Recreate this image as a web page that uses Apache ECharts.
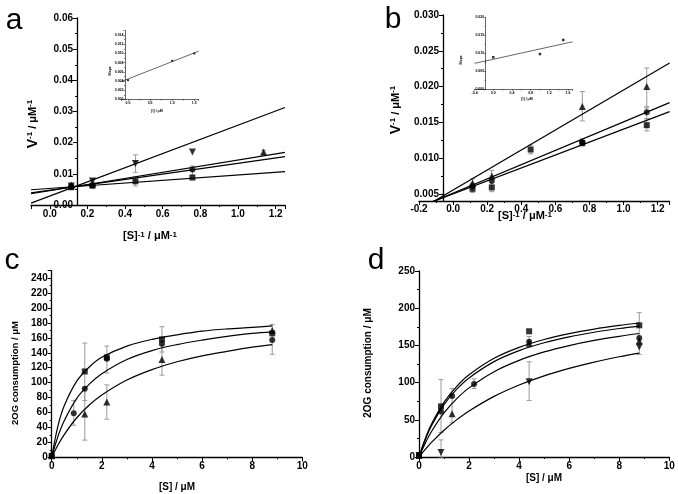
<!DOCTYPE html>
<html><head><meta charset="utf-8">
<script src="https://cdn.jsdelivr.net/npm/echarts@6/dist/echarts.min.js"></script>
<style>html,body{margin:0;padding:0;background:#fff}#chart{width:678px;height:494px}</style>
</head><body><div id="chart"></div>
<script>
// ---------- Panel a : Lineweaver-Burk ----------
const aFitX = [-0.1, 1.25];
const aFitDown = [0.0006, 0.0313];
const aFitUp = [0.0036, 0.0169];
const aFitCircle = [0.0039, 0.0155];
const aFitSquare = [0.0049, 0.0107];
const aPtDown = [[0.114, 0.0061], [0.227, 0.0077], [0.455, 0.0133], [0.758, 0.0170]];
const aPtUp = [[0.114, 0.0064], [0.227, 0.0068], [1.136, 0.0170]];
const aPtCircle = [[0.114, 0.0058], [0.227, 0.0063], [0.758, 0.0114]];
const aPtSquare = [[0.114, 0.0057], [0.227, 0.0062], [0.455, 0.0076], [0.758, 0.0088]];
const aErr = [[0.114, 0.0052, 0.0068], [0.227, 0.0055, 0.0083], [0.455, 0.0105, 0.0161],
              [0.455, 0.0061, 0.0090], [0.758, 0.0095, 0.0125], [1.136, 0.0163, 0.0176]];
// inset a : slope vs [I]
const aInsetLineX = [-0.15, 1.6];
const aInsetLineY = [0.0039, 0.0105];
const aInsetPts = [[0, 0.0042], [1.0, 0.0084], [1.5, 0.0100]];

// ---------- Panel b : Lineweaver-Burk ----------
const bFitX = [-0.15, 1.27];
const bFitUp = [0.00344, 0.02329];
const bFitCircle = [0.00360, 0.01775];
const bFitSquare = [0.00364, 0.01650];
const bPtUp = [[0.114, 0.0065], [0.227, 0.0075], [0.758, 0.0172], [1.136, 0.0200]];
const bPtCircle = [[0.114, 0.0061], [0.227, 0.0068], [0.758, 0.0122], [1.136, 0.0164]];
const bPtSquare = [[0.114, 0.0057], [0.227, 0.0059], [0.455, 0.0112], [0.758, 0.0121], [1.136, 0.0146]];
const bErr = [[0.114, 0.0052, 0.0071], [0.227, 0.0053, 0.0083], [0.455, 0.0106, 0.0118],
              [0.758, 0.0152, 0.0193], [0.758, 0.0117, 0.0127], [1.136, 0.0170, 0.0226],
              [1.136, 0.0155, 0.0172], [1.136, 0.0138, 0.0155]];
// inset b
const bInsetLineX = [-0.4, 1.7];
const bInsetLineY = [0.0072, 0.0132];
const bInsetPts = [[0, 0.0089], [1.0, 0.0098], [1.5, 0.0137]];

// ---------- Panel c : Michaelis-Menten ----------
const cCurveX = [0, 0.25, 0.5, 1, 1.5, 2, 3, 4, 5, 6, 7, 8, 8.8];
const cFitSquare = [0, 42, 69, 102, 121, 134, 149, 158, 164, 169, 172, 174, 176];
const cFitCircle = [0, 28, 49, 79, 98, 112, 131, 143, 151, 157, 162, 166, 168];
const cFitUp = [0, 16.5, 30.5, 53, 70, 83.5, 103.5, 117.5, 128, 136, 142, 147.5, 151];
const cPtSquare = [[0, 2], [1.32, 115], [2.2, 134], [4.4, 158], [8.8, 166]];
const cPtCircle = [[0, 2], [0.88, 59], [1.32, 92], [2.2, 132], [4.4, 152], [8.8, 157]];
const cPtUp = [[0, 2], [1.32, 58], [2.2, 74], [4.4, 131], [8.8, 170]];
const cErr = [[0.88, 43, 76], [1.32, 76, 153], [1.32, 23, 93], [2.2, 113, 149], [2.2, 51, 97],
              [4.4, 141, 175], [4.4, 110, 150], [8.8, 138, 178]];

// ---------- Panel d : Michaelis-Menten ----------
const dCurveX = [0, 0.25, 0.5, 1, 1.5, 2, 3, 4, 5, 6, 7, 8, 8.8];
const dFitSquare = [0, 24.6, 44.2, 73.7, 94.7, 110.5, 132.6, 147.3, 157.9, 165.8, 171.9, 176.8, 180.1];
const dFitCircle = [0, 23.2, 41.9, 70.3, 90.8, 106.3, 128.2, 143, 153.5, 161.5, 167.7, 172.7, 176];
const dFitUp = [0, 18.6, 34.3, 59.2, 78.1, 92.9, 114.7, 129.9, 141.2, 149.8, 156.7, 162.2, 166];
const dFitDown = [0, 10.2, 19.6, 36, 49.9, 61.9, 81.5, 96.8, 109.1, 119.1, 127.6, 134.7, 139.7];
const dPtSquare = [[0, 2], [0.88, 68], [4.4, 169], [8.8, 177]];
const dPtCircle = [[0, 2], [0.88, 61], [1.32, 82], [2.2, 98], [4.4, 155], [8.8, 160]];
const dPtUp = [[0, 2], [1.32, 58], [4.4, 153], [8.8, 156]];
const dPtDown = [[0, 2], [0.88, 6], [4.4, 101], [8.8, 148]];
const dErr = [[0.88, 33, 104], [0.88, 0, 23], [1.32, 46, 92], [2.2, 92, 105],
              [4.4, 148, 162], [4.4, 76, 128], [8.8, 138, 194]];

// ---------- Text ----------
const panelLetters = ['a', 'b', 'c', 'd'];
const titleLB_Y = '{v|V}{s|-1}{u| / μM}{s|-1}';
const titleLB_X = '{u|[S]}{s|-1}{u| / μM}{s|-1}';
const titleMM_Y = '2OG consumption / μM';
const titleMM_X = '[S] / μM';
const insetY = 'Slope';
const insetX = '[I] / μM';

// ---------- helpers ----------
const FF = '"Liberation Sans", Arial, sans-serif';
const zip = (xs, ys) => xs.map((x, i) => [x, ys[i]]);

function axis(o, small) {
  const base = {
    type: 'value',
    gridIndex: o.grid,
    position: o.pos,
    min: o.min, max: o.max,
    offset: o.offset || 0,
    axisLine: { show: true, onZero: false, lineStyle: { color: '#000', width: small ? 0.6 : 1.3 } },
    axisTick: { show: true, inside: !!o.inside, length: small ? 1.5 : 4, lineStyle: { color: '#000', width: small ? 0.5 : 1 } },
    minorTick: { show: true, splitNumber: 2, length: small ? 1 : 2, lineStyle: { color: '#000', width: small ? 0.5 : 1 } },
    splitLine: { show: false },
    axisLabel: {
      color: '#000', fontWeight: 'bold', fontFamily: FF, fontSize: small ? 3.5 : 10,
      margin: o.margin !== undefined ? o.margin : (small ? 1.5 : 4),
      showMinLabel: o.showMin !== false, showMaxLabel: o.showMax !== false,
      formatter: o.fmt
    }
  };
  if (o.interval !== undefined) base.interval = o.interval;
  if (o.fixInterval !== undefined) { base.minInterval = o.fixInterval; base.maxInterval = o.fixInterval; }
  return base;
}

function lineS(idx, data, smooth) {
  return { type: 'line', xAxisIndex: idx, yAxisIndex: idx, data: data, showSymbol: false, symbol: 'none',
           smooth: smooth ? 0.35 : false, clip: true, silent: true,
           lineStyle: { color: '#000', width: idx === 1 || idx === 3 ? 0.6 : 1.2 }, z: 3 };
}
function scatS(idx, data, symbol, rot, size) {
  return { type: 'scatter', xAxisIndex: idx, yAxisIndex: idx, data: data, symbol: symbol,
           symbolRotate: rot || 0, symbolSize: size, itemStyle: { color: '#000' }, silent: true, z: 5 };
}
function errS(idx, data) {
  return {
    type: 'custom', xAxisIndex: idx, yAxisIndex: idx, data: data, silent: true, z: 2,
    encode: { x: 0, y: [1, 2] },
    renderItem: function (params, api) {
      const x = api.value(0), lo = api.value(1), hi = api.value(2);
      const p1 = api.coord([x, lo]), p2 = api.coord([x, hi]);
      const w = 2.5, st = { stroke: '#9a9a9a', lineWidth: 1 };
      return { type: 'group', children: [
        { type: 'line', shape: { x1: p1[0], y1: p1[1], x2: p2[0], y2: p2[1] }, style: st },
        { type: 'line', shape: { x1: p1[0] - w, y1: p1[1], x2: p1[0] + w, y2: p1[1] }, style: st },
        { type: 'line', shape: { x1: p2[0] - w, y1: p2[1], x2: p2[0] + w, y2: p2[1] }, style: st }
      ]};
    }
  };
}
const rich = {
  v: { fontSize: 14, fontWeight: 'bold', fontFamily: FF, fill: '#000' },
  u: { fontSize: 11, fontWeight: 'bold', fontFamily: FF, fill: '#000' },
  s: { fontSize: 8, fontWeight: 'bold', fontFamily: FF, fill: '#000', verticalAlign: 'top' }
};
function txt(x, y, text, size, opts) {
  opts = opts || {};
  return { type: 'text', x: x, y: y, rotation: opts.rot ? Math.PI / 2 : 0, silent: true, z: 10,
    style: { text: text, fill: '#000', fontSize: size, fontWeight: opts.weight || 'normal', fontFamily: FF,
      align: 'center', verticalAlign: 'middle', textAlign: 'center', textVerticalAlign: 'middle',
      rich: opts.rich ? rich : undefined } };
}

const f2 = v => v.toFixed(2), f3 = v => v.toFixed(3), f1 = v => v.toFixed(1), f0 = v => String(Math.round(v));

const option = {
  animation: false,
  backgroundColor: '#fff',
  grid: [
    { left: 31, top: 18, width: 254, height: 187 },       // a
    { left: 121.4, top: 30.5, width: 77.3, height: 69 },   // a inset
    { left: 419, top: 15, width: 250.6, height: 186 },     // b
    { left: 474.6, top: 17.3, width: 98, height: 72 },     // b inset
    { left: 51.7, top: 270.7, width: 250.6, height: 186.6 }, // c
    { left: 419, top: 271, width: 250.3, height: 186 }     // d
  ],
  xAxis: [
    axis({ grid: 0, pos: 'bottom', min: -0.1, max: 1.25, fixInterval: 0.2, showMin: false, showMax: false, fmt: f1 }),
    axis({ grid: 1, pos: 'bottom', min: -0.15, max: 1.6, fixInterval: 0.5, showMin: false, showMax: false, fmt: f1 }, true),
    axis({ grid: 2, pos: 'bottom', min: -0.2, max: 1.27, interval: 0.2, showMax: false, fmt: f1, margin: 3 }),
    axis({ grid: 3, pos: 'bottom', min: -0.4, max: 1.7, interval: 0.4, showMax: false, fmt: f1 }, true),
    axis({ grid: 4, pos: 'bottom', min: 0, max: 10, interval: 2, fmt: f0 }),
    axis({ grid: 5, pos: 'bottom', min: 0, max: 10, interval: 2, fmt: f0 })
  ],
  yAxis: [
    axis({ grid: 0, pos: 'left', min: 0, max: 0.06, interval: 0.01, offset: -46, fmt: f2 }),
    axis({ grid: 1, pos: 'left', min: 0, max: 0.015, interval: 0.002, offset: -3.6, showMax: false, fmt: f3 }, true),
    axis({ grid: 2, pos: 'left', min: 0.004, max: 0.030, fixInterval: 0.005, offset: -24, showMin: false, fmt: f3 }),
    axis({ grid: 3, pos: 'left', min: 0, max: 0.020, interval: 0.005, offset: -11.1, fmt: f3 }, true),
    axis({ grid: 4, pos: 'left', min: 0, max: 250, interval: 20, showMax: false, fmt: f0 }),
    axis({ grid: 5, pos: 'left', min: 0, max: 250, interval: 50, fmt: f0 })
  ],
  series: [
    // a
    errS(0, aErr),
    lineS(0, zip(aFitX, aFitDown)), lineS(0, zip(aFitX, aFitUp)),
    lineS(0, zip(aFitX, aFitCircle)), lineS(0, zip(aFitX, aFitSquare)),
    scatS(0, aPtDown, 'triangle', 180, 7), scatS(0, aPtUp, 'triangle', 0, 7),
    scatS(0, aPtCircle, 'circle', 0, 6), scatS(0, aPtSquare, 'rect', 0, 6),
    lineS(1, zip(aInsetLineX, aInsetLineY)), scatS(1, aInsetPts, 'rect', 0, 2),
    // b
    errS(2, bErr),
    lineS(2, zip(bFitX, bFitUp)), lineS(2, zip(bFitX, bFitCircle)), lineS(2, zip(bFitX, bFitSquare)),
    scatS(2, bPtUp, 'triangle', 0, 7), scatS(2, bPtCircle, 'circle', 0, 6), scatS(2, bPtSquare, 'rect', 0, 6),
    lineS(3, zip(bInsetLineX, bInsetLineY)), scatS(3, bInsetPts, 'rect', 0, 2.5),
    // c
    errS(4, cErr),
    lineS(4, zip(cCurveX, cFitSquare), true), lineS(4, zip(cCurveX, cFitCircle), true), lineS(4, zip(cCurveX, cFitUp), true),
    scatS(4, cPtSquare, 'rect', 0, 6), scatS(4, cPtCircle, 'circle', 0, 6), scatS(4, cPtUp, 'triangle', 0, 7),
    // d
    errS(5, dErr),
    lineS(5, zip(dCurveX, dFitSquare), true), lineS(5, zip(dCurveX, dFitCircle), true),
    lineS(5, zip(dCurveX, dFitUp), true), lineS(5, zip(dCurveX, dFitDown), true),
    scatS(5, dPtSquare, 'rect', 0, 6), scatS(5, dPtCircle, 'circle', 0, 6),
    scatS(5, dPtUp, 'triangle', 0, 7), scatS(5, dPtDown, 'triangle', 180, 7)
  ],
  graphic: [
    txt(14, 21, panelLetters[0], 30), txt(393, 20, panelLetters[1], 30),
    txt(12, 261, panelLetters[2], 30), txt(376, 261, panelLetters[3], 30),
    txt(33, 124, titleLB_Y, 11, { rot: true, rich: true }),
    txt(150, 236, titleLB_X, 11, { rich: true }),
    txt(396, 110, titleLB_Y, 11, { rot: true, rich: true }),
    txt(525, 216, titleLB_X, 11, { rich: true }),
    txt(15, 373, titleMM_Y, 9.5, { rot: true, weight: 'bold' }),
    txt(177, 487, titleMM_X, 10, { weight: 'bold' }),
    txt(368, 363, titleMM_Y, 10, { rot: true, weight: 'bold' }),
    txt(544, 478, titleMM_X, 10, { weight: 'bold' }),
    txt(110, 71, insetY, 3.5, { rot: true, weight: 'bold' }),
    txt(157, 111, insetX, 3.5, { weight: 'bold' }),
    txt(461, 60, insetY, 3.5, { rot: true, weight: 'bold' }),
    txt(527, 99, insetX, 3.5, { weight: 'bold' })
  ]
};
echarts.init(document.getElementById('chart'), null, { renderer: 'canvas' }).setOption(option);
</script>
</body></html>
